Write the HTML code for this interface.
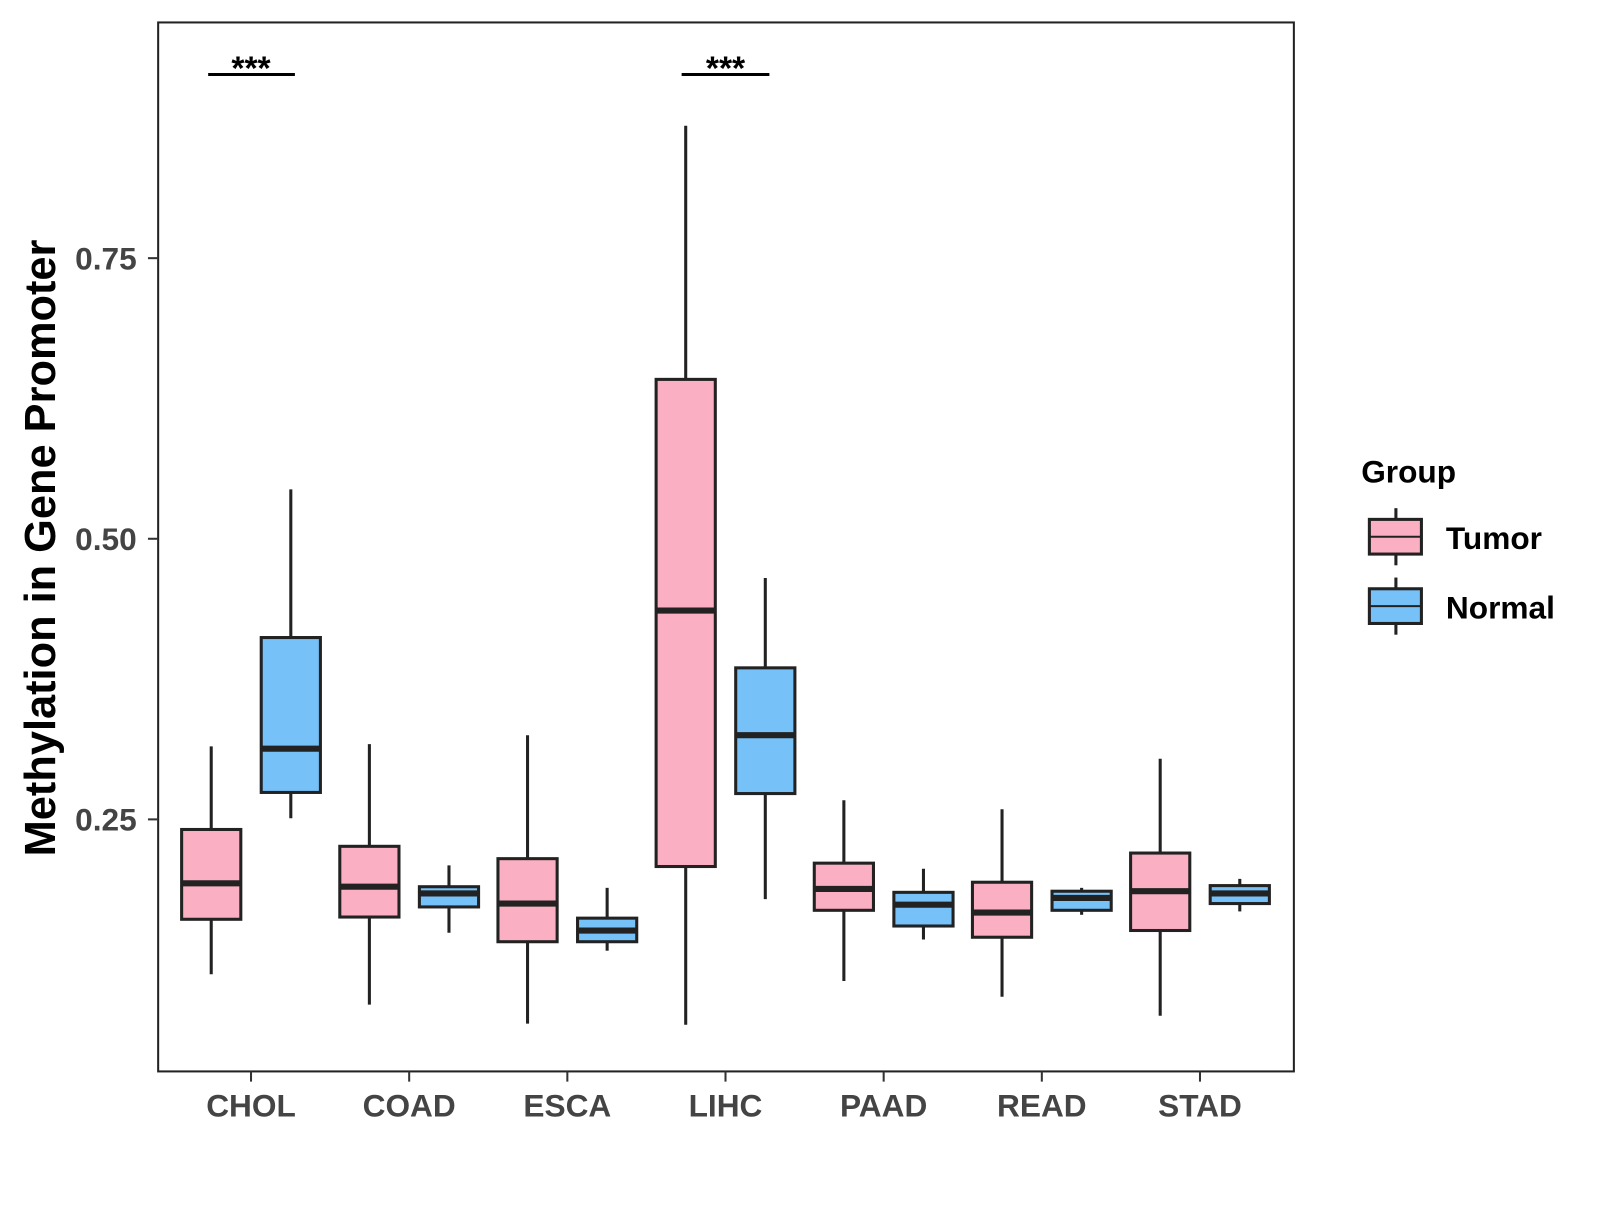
<!DOCTYPE html>
<html><head><meta charset="utf-8"><style>
body{margin:0;background:#fff}
svg text{font-family:"Liberation Sans",Arial,sans-serif;font-weight:bold}
</style></head><body>
<svg id="chart" width="1600" height="1200" viewBox="0 0 1600 1200">
<g transform="scale(1.0204)">
<rect x="155" y="22" width="1113" height="1028" fill="#fff" stroke="#222" stroke-width="2"/>
<g id="boxes"></g>
<g id="axes"></g>
<text transform="translate(54,537) rotate(-90)" text-anchor="middle" font-size="42.5" fill="#000">Methylation in Gene Promoter</text>
<g>
<text x="1334" y="473" font-size="31" fill="#000">Group</text>
<g>
<line x1="1368" y1="498" x2="1368" y2="554" stroke="#222" stroke-width="3"/>
<rect x="1342" y="509" width="51" height="34" fill="#FAB0C2" stroke="#222" stroke-width="3"/>
<line x1="1342" y1="526" x2="1393" y2="526" stroke="#222" stroke-width="2"/>
<text x="1417" y="538" font-size="31" fill="#000">Tumor</text></g>
<g>
<line x1="1368" y1="566" x2="1368" y2="622" stroke="#222" stroke-width="3"/>
<rect x="1342" y="577" width="51" height="34" fill="#76C1F8" stroke="#222" stroke-width="3"/>
<line x1="1342" y1="594" x2="1393" y2="594" stroke="#222" stroke-width="2"/>
<text x="1417" y="606" font-size="31" fill="#000">Normal</text></g>
</g>
<g>
<line x1="204" y1="73" x2="289" y2="73" stroke="#000" stroke-width="3"/>
<text x="246" y="78" text-anchor="middle" font-size="33">***</text></g>
<g>
<line x1="668" y1="73" x2="754" y2="73" stroke="#000" stroke-width="3"/>
<text x="711" y="78" text-anchor="middle" font-size="33">***</text></g>
</g>
</svg>
<script>
const categories=["CHOL","COAD","ESCA","LIHC","PAAD","READ","STAD"];
const tumorLow=[0.112,0.085,0.068,0.067,0.106,0.092,0.075];
const tumorQ1=[0.161,0.163,0.141,0.208,0.169,0.145,0.151];
const tumorMed=[0.193,0.190,0.175,0.436,0.188,0.167,0.186];
const tumorQ3=[0.241,0.226,0.215,0.642,0.211,0.194,0.220];
const tumorHigh=[0.315,0.317,0.325,0.868,0.267,0.259,0.304];
const normalLow=[0.251,0.149,0.133,0.179,0.143,0.165,0.168];
const normalQ1=[0.274,0.172,0.141,0.273,0.155,0.169,0.175];
const normalMed=[0.313,0.184,0.151,0.325,0.174,0.180,0.184];
const normalQ3=[0.412,0.190,0.162,0.385,0.185,0.186,0.191];
const normalHigh=[0.544,0.209,0.189,0.465,0.206,0.189,0.197];
const yTicks=[0.25,0.50,0.75];
const yTickLabels=["0.25","0.50","0.75"];
const NS="http://www.w3.org/2000/svg";
function yS(v){return 1078-v*1100;}
function xS(i){return 246+i*155;}
function mk(t,a,p){const e=document.createElementNS(NS,t);for(const k in a)e.setAttribute(k,a[k]);p.appendChild(e);return e;}
const boxes=document.getElementById('boxes'),axes=document.getElementById('axes');
function drawBox(cx,lo,q1,md,q3,hi,fill,name){
  const g=mk('g',{},boxes);
  
  
  mk('line',{x1:cx,x2:cx,y1:yS(hi),y2:yS(lo),stroke:'#222','stroke-width':3},g);
  mk('rect',{x:cx-29,y:yS(q3),width:58,height:yS(q1)-yS(q3),fill:fill,stroke:'#222','stroke-width':3},g);
  mk('line',{x1:cx-29,x2:cx+29,y1:yS(md),y2:yS(md),stroke:'#222','stroke-width':6},g);
}
categories.forEach((c,i)=>{
  drawBox(xS(i)-39,tumorLow[i],tumorQ1[i],tumorMed[i],tumorQ3[i],tumorHigh[i],'#FAB0C2','box-tumor-'+c.toLowerCase());
  drawBox(xS(i)+39,normalLow[i],normalQ1[i],normalMed[i],normalQ3[i],normalHigh[i],'#76C1F8','box-normal-'+c.toLowerCase());
  mk('line',{x1:xS(i),x2:xS(i),y1:1050,y2:1060,stroke:'#333','stroke-width':2},axes);
  const t=mk('text',{x:xS(i),y:1094,'text-anchor':'middle','font-size':31,fill:'#444'},axes);
  t.textContent=c;
  
  
});
yTicks.forEach((v,i)=>{
  mk('line',{x1:145,x2:155,y1:yS(v),y2:yS(v),stroke:'#333','stroke-width':2},axes);
  const t=mk('text',{x:134,y:yS(v)+11,'text-anchor':'end','font-size':31,fill:'#444'},axes);
  t.textContent=yTickLabels[i];
  
  
});
</script>
</body></html>
